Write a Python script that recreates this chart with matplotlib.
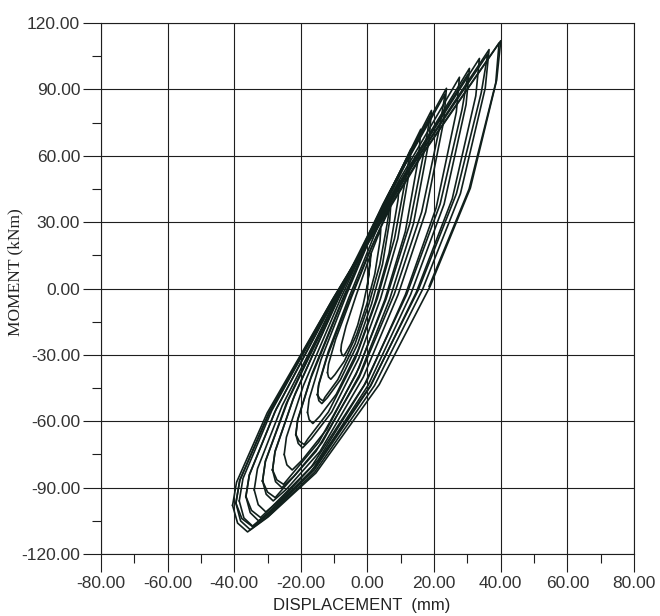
"""
Moment vs displacement hysteresis loops
"""
import matplotlib
matplotlib.use("Agg")
import matplotlib.pyplot as plt
from matplotlib.ticker import MultipleLocator, FormatStrFormatter

# Cycles: each list runs from a negative tip,
# up to the positive tip and back down to the next negative tip.
loop_x = [
    [0, 0.1, 0.4, 0.7, 1, 0.87, 0.02, -1.29, -2.94, -4.99, -6.54, -7.2, -7.7, -8],
    [-8, -7.82, -6.44, -3.44, 0.4, 4, 3.76, 2.2, -0.19, -3.2, -6.95, -9.8, -11, -11.7, -12],
    [-12, -11.71, -9.53, -4.78, 1.3, 7, 6.67, 4.52, 1.22, -2.94, -8.11, -12.04, -13.7, -14.6, -15],
    [-15, -14.68, -12.19, -6.79, 0.12, 6.6, 5.87, 3.72, 0.42, -3.74, -8.91, -12.84, -13.3, -14.3, -15],
    [-15, -14.63, -11.8, -5.65, 2.22, 9.6, 9.18, 6.48, 2.35, -2.88, -9.38, -14.32, -16.4, -17.5, -18],
    [-18, -17.53, -13.97, -6.22, 3.7, 13, 12.48, 9.1, 3.93, -2.6, -10.73, -16.9, -19.5, -20.8, -21.5],
    [-21.5, -20.99, -17.07, -8.54, 2.37, 12.6, 11.48, 8.1, 2.93, -3.6, -11.73, -17.9, -19, -20.5, -21.5],
    [-21.5, -20.94, -16.62, -7.25, 4.75, 16, 15.38, 11.37, 5.23, -2.53, -12.18, -19.51, -22.6, -24.2, -25],
    [-25, -24.34, -19.25, -8.2, 5.94, 19.2, 18.48, 13.81, 6.67, -2.35, -13.58, -22.11, -25.7, -27.6, -28.5],
    [-28.5, -27.79, -22.35, -10.53, 4.61, 18.8, 17.38, 12.71, 5.57, -3.45, -14.68, -23.21, -25.2, -27.2, -28.5],
    [-28.5, -27.72, -21.71, -8.66, 8.04, 23.7, 22.87, 17.46, 9.19, -1.26, -14.26, -24.14, -28.3, -30.4, -31.5],
    [-31.5, -30.68, -24.38, -10.68, 6.86, 23.3, 21.67, 16.26, 7.99, -2.46, -15.46, -25.34, -27.7, -30, -31.5],
    [-31.5, -30.61, -23.82, -9.04, 9.87, 27.6, 26.67, 20.63, 11.39, -0.29, -14.81, -25.85, -30.5, -32.8, -34],
    [-34, -33.03, -25.6, -9.45, 11.22, 30.6, 29.59, 23, 12.94, 0.22, -15.61, -27.64, -32.7, -35.2, -36.5],
    [-36.5, -35.5, -27.83, -11.15, 10.19, 30.2, 28.39, 21.8, 11.74, -0.98, -16.81, -28.84, -32.1, -34.8, -36.5],
    [-36.5, -35.45, -27.39, -9.86, 12.57, 33.6, 32.51, 25.44, 14.63, 0.96, -16.04, -28.96, -34.4, -37.1, -38.5],
    [-38.5, -37.37, -28.75, -10, 14, 36.5, 35.35, 27.9, 16.5, 2.08, -15.84, -29.46, -35.2, -38.1, -39.5],
    [-39.5, -38.37, -29.67, -10.77, 13.42, 36.1, 34.15, 26.7, 15.3, 0.88, -17.04, -30.66, -34.6, -37.7, -39.5],
    [-39.5, -38.31, -29.16, -9.29, 16.15, 40, 38.78, 30.88, 18.8, 3.52, -15.48, -29.92, -36, -39, -40.5],
    [-40.5, -39.3, -30.1, -10.1, 15.5, 39.5, 38.5, 30.5, 18.5],
]
loop_y = [
    [0, 3, 7, 12, 16, 12.28, 2.05, -7.25, -16.55, -24.92, -29.1, -30.5, -29.7, -28],
    [-28, -25.25, -17, -3.25, 13.25, 27, 21.56, 6.6, -7, -20.6, -32.84, -38.96, -41, -40, -38],
    [-38, -34.2, -22.8, -3.8, 19, 38, 30.8, 11, -7, -25, -41.2, -49.3, -52, -50.7, -48],
    [-48, -43.8, -31.2, -10.2, 15, 36, 29, 11, -7, -25, -41.2, -49.3, -50.8, -49.8, -48],
    [-48, -43.15, -28.6, -4.35, 24.75, 49, 40.2, 16, -6, -28, -47.8, -57.7, -61, -59.3, -56],
    [-56, -50.05, -32.2, -2.45, 33.25, 63, 52.2, 22.5, -4.5, -31.5, -55.8, -67.95, -72, -70, -66],
    [-66, -59.7, -40.8, -9.3, 28.5, 60, 50, 22.5, -4.5, -31.5, -55.8, -67.95, -70.5, -69, -66],
    [-66, -59.1, -38.4, -3.9, 37.5, 72, 59.68, 25.8, -5, -35.8, -63.52, -77.38, -82, -79.7, -75],
    [-75, -67.22, -43.9, -5.02, 41.63, 80.5, 66.86, 29.35, -4.75, -38.85, -69.54, -84.89, -90, -87.3, -82],
    [-82, -74, -50, -10, 38, 78, 65, 29.35, -4.75, -38.85, -69.54, -84.89, -88.5, -86.5, -82],
    [-82, -73.37, -47.5, -4.37, 47.38, 90.5, 75.58, 34.55, -2.75, -40.05, -73.62, -90.41, -96, -93, -87],
    [-87, -78.25, -52, -8.25, 44.25, 88, 73, 34.55, -2.75, -40.05, -73.62, -90.41, -94.5, -92, -87],
    [-87, -77.87, -50.5, -4.87, 49.88, 95.5, 79.78, 36.55, -2.75, -42.05, -77.42, -95.11, -101, -97.7, -91],
    [-91, -81.47, -52.9, -5.27, 51.88, 99.5, 83.14, 38.15, -2.75, -43.65, -80.46, -98.87, -105, -101.3, -94],
    [-94, -84.45, -55.8, -8.05, 49.25, 97, 81, 38.15, -2.75, -43.65, -80.46, -98.87, -103.5, -100.3, -94],
    [-94, -84.1, -54.4, -4.9, 54.5, 104, 87.08, 40.55, -1.75, -44.05, -82.12, -101.16, -107.5, -103.7, -96],
    [-96, -85.8, -55.2, -4.2, 57, 108, 90.64, 42.9, -0.5, -43.9, -82.96, -102.49, -109, -105, -97],
    [-97, -86.85, -56.4, -5.65, 55.25, 106, 88.5, 42.9, -0.5, -43.9, -82.96, -102.49, -107.5, -104, -97],
    [-97, -86.55, -55.2, -2.95, 59.75, 112, 94.24, 45.4, 1, -43.4, -83.36, -103.34, -110, -106, -98],
    [-98, -87.55, -56.2, -3.95, 58.75, 111, 93, 45, 1],
]

plt.rcParams["font.family"] = ["Liberation Sans", "DejaVu Sans"]
text_color = "#333333"

fig = plt.figure(figsize=(6.6, 6.16), dpi=100)
ax = fig.add_axes([0.153, 0.1006, 0.8076, 0.862])

for xs, ys in zip(loop_x, loop_y):
    ax.plot(xs, ys, color="#11201c", lw=1.2, solid_joinstyle="round")

ax.set_xlim(-80, 80)
ax.set_ylim(-120, 120)
ax.xaxis.set_major_locator(MultipleLocator(20))
ax.xaxis.set_minor_locator(MultipleLocator(10))
ax.yaxis.set_major_locator(MultipleLocator(30))
ax.yaxis.set_minor_locator(MultipleLocator(15))
ax.xaxis.set_major_formatter(FormatStrFormatter("%.2f"))
ax.yaxis.set_major_formatter(FormatStrFormatter("%.2f"))

ax.grid(True, which="major", color="#1e1e1e", lw=0.8)
for side in ax.spines.values():
    side.set_color("#1e1e1e")
    side.set_linewidth(0.8)

ax.tick_params(which="major", direction="out", length=13, width=0.8,
               color="#1e1e1e", labelsize=12.5, labelcolor=text_color)
ax.tick_params(which="minor", direction="out", length=6.5, width=0.8,
               color="#1e1e1e")
ax.tick_params(axis="y", pad=2)
ax.tick_params(axis="x", pad=3)

ax.set_xlabel("DISPLACEMENT  (mm)", fontsize=12, color="#222222")
ax.xaxis.set_label_coords(0.49, -0.082)
ax.set_ylabel("MOMENT (kNm)", fontsize=12.5, color="#222222",
              family=["Liberation Serif", "DejaVu Serif"])
ax.yaxis.set_label_coords(-0.146, 0.53)

fig.savefig("out.png", dpi=100, facecolor="white")
